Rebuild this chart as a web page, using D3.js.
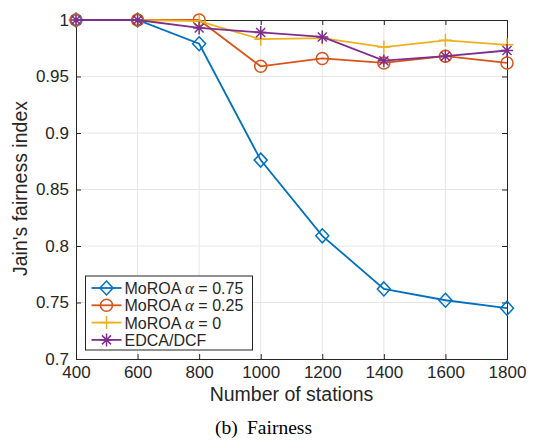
<!DOCTYPE html>
<html>
<head>
<meta charset="utf-8">
<script src="https://cdn.jsdelivr.net/npm/d3@7"></script>
<style>
body { margin: 0; background: #fff; }
text { font-family: "Liberation Sans", Arial, sans-serif; fill: #262626; }
.caption { font-family: "Liberation Serif", "Times New Roman", serif; fill: #000; }
</style>
</head>
<body>
<svg id="chart"></svg>
<script>
// number of stations on the x axis
var stations = [400, 600, 800, 1000, 1200, 1400, 1600, 1800]
// Jain's fairness index per scheme
var moroa075 = [1, 1, 0.979, 0.876, 0.809, 0.762, 0.752, 0.745]
var moroa025 = [1, 1, 1, 0.959, 0.966, 0.962, 0.968, 0.962]
var moroa0 = [1, 1, 0.999, 0.983, 0.984, 0.976, 0.982, 0.978]
var edca = [1, 1, 0.993, 0.989, 0.985, 0.964, 0.968, 0.973]

var xTicks = [400, 600, 800, 1000, 1200, 1400, 1600, 1800]
var yTicks = [0.7, 0.75, 0.8, 0.85, 0.9, 0.95, 1]

var series = [
    {name: "MoROA", alpha: "0.75", values: moroa075, color: "#0072BD", marker: "diamond"},
    {name: "MoROA", alpha: "0.25", values: moroa025, color: "#D95319", marker: "circle"},
    {name: "MoROA", alpha: "0", values: moroa0, color: "#EDB120", marker: "plus"},
    {name: "EDCA/DCF", alpha: null, values: edca, color: "#7E2F8E", marker: "star"}
]

var screen = {width: 533, height: 440}
var margins = {left: 76, right: 26, top: 20, bottom: 81}
var graph = {
    width: screen.width - margins.left - margins.right,
    height: screen.height - margins.top - margins.bottom
}

var svg = d3.select("#chart")
    .attr("width", screen.width)
    .attr("height", screen.height)

var xScale = d3.scaleLinear().domain([400, 1800]).range([0, graph.width])
var yScale = d3.scaleLinear().domain([0.7, 1]).range([graph.height, 0])

var target = svg.append("g")
    .attr("transform", "translate(" + margins.left + "," + margins.top + ")")

// grid
target.append("g").selectAll("line").data(xTicks.slice(1, -1)).enter().append("line")
    .attr("x1", function(d) { return xScale(d) }).attr("x2", function(d) { return xScale(d) })
    .attr("y1", 0).attr("y2", graph.height)
    .attr("stroke", "#e6e6e6").attr("stroke-width", 1)
target.append("g").selectAll("line").data(yTicks.slice(1, -1)).enter().append("line")
    .attr("y1", function(d) { return yScale(d) }).attr("y2", function(d) { return yScale(d) })
    .attr("x1", 0).attr("x2", graph.width)
    .attr("stroke", "#e6e6e6").attr("stroke-width", 1)

// axes (ticks inward, box on)
var xAxis = d3.axisBottom(xScale).tickValues(xTicks).tickSize(-5).tickPadding(7).tickFormat(d3.format("d"))
var yAxis = d3.axisLeft(yScale).tickValues(yTicks).tickSize(-5).tickPadding(7).tickFormat(function(d) { return d3.format("")(d) })
var xTop = d3.axisTop(xScale).tickValues(xTicks).tickSize(-5).tickFormat("")
var yRight = d3.axisRight(yScale).tickValues(yTicks).tickSize(-5).tickFormat("")

var styleAxis = function(g) {
    g.select(".domain").attr("stroke", "#262626").attr("stroke-width", 1)
    g.selectAll(".tick line").attr("stroke", "#262626")
    g.selectAll("text").style("font-size", "17px").attr("fill", "#262626")
}
target.append("g").attr("transform", "translate(0," + graph.height + ")").call(xAxis).call(styleAxis)
target.append("g").call(yAxis).call(styleAxis)
target.append("g").call(xTop).call(styleAxis)
target.append("g").attr("transform", "translate(" + graph.width + ",0)").call(yRight).call(styleAxis)

// markers
var drawMarker = function(sel, type, color) {
    if (type === "diamond") {
        sel.append("path").attr("d", "M0,-7L6.5,0L0,7L-6.5,0Z")
            .attr("fill", "none").attr("stroke", color).attr("stroke-width", 1.5)
    } else if (type === "circle") {
        sel.append("circle").attr("r", 6)
            .attr("fill", "none").attr("stroke", color).attr("stroke-width", 1.5)
    } else if (type === "plus") {
        sel.append("path").attr("d", "M-6.5,0H6.5M0,-6.5V6.5")
            .attr("stroke", color).attr("stroke-width", 1.5)
    } else {
        sel.append("path").attr("d", "M-6,0H6M0,-6.5V6.5M-4.5,-4.5L4.5,4.5M-4.5,4.5L4.5,-4.5")
            .attr("stroke", color).attr("stroke-width", 1.5)
    }
}

var line = d3.line()
    .x(function(d, i) { return xScale(stations[i]) })
    .y(function(d) { return yScale(d) })

series.forEach(function(s) {
    var g = target.append("g")
    g.append("path").datum(s.values).attr("d", line)
        .attr("fill", "none").attr("stroke", s.color).attr("stroke-width", 1.8)
    g.selectAll("g.m").data(s.values).enter().append("g")
        .attr("transform", function(d, i) { return "translate(" + xScale(stations[i]) + "," + yScale(d) + ")" })
        .each(function() { drawMarker(d3.select(this), s.marker, s.color) })
})

// legend
var legend = svg.append("g").attr("transform", "translate(85.5,276)")
legend.append("rect").attr("width", 167).attr("height", 74)
    .attr("fill", "#fff").attr("stroke", "#262626").attr("stroke-width", 1)
series.forEach(function(s, i) {
    var row = legend.append("g").attr("transform", "translate(0," + (12 + i * 17.3) + ")")
    row.append("line").attr("x1", 6).attr("x2", 36).attr("stroke", s.color).attr("stroke-width", 1.8)
    var m = row.append("g").attr("transform", "translate(21,0)")
    drawMarker(m, s.marker, s.color)
    var t = row.append("text").attr("x", 39).attr("y", 6).style("font-size", "16px").attr("fill", "#000")
    t.append("tspan").text(s.name)
    if (s.alpha !== null) {
        t.append("tspan").text(" ")
        t.append("tspan").text("α").style("font-family", "'Liberation Serif', serif").style("font-style", "italic").style("font-size", "17px")
        t.append("tspan").text(" = " + s.alpha)
    }
})

// labels
svg.append("text").text("Number of stations")
    .attr("text-anchor", "middle")
    .attr("x", margins.left + graph.width / 2).attr("y", 401)
    .style("font-size", "19.5px")
svg.append("text").text("Jain's fairness index")
    .attr("text-anchor", "middle")
    .attr("transform", "translate(27," + (margins.top + graph.height / 2 - 1) + ") rotate(270)")
    .style("font-size", "19.5px")
var cap = svg.append("text").classed("caption", true)
    .attr("x", 215).attr("y", 434)
    .style("font-size", "19.5px")
cap.append("tspan").text("(b)")
cap.append("tspan").text("Fairness").attr("x", 247)
</script>
</body>
</html>
